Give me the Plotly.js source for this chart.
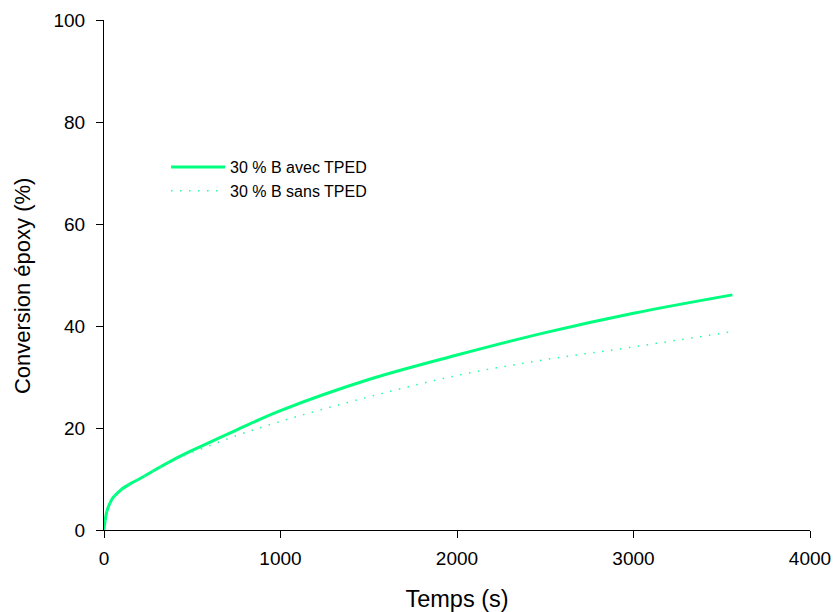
<!DOCTYPE html>
<html><head><meta charset="utf-8">
<script src="https://cdn.plot.ly/plotly-3.0.1.min.js"></script>
<style>body{margin:0;background:#fff}#c{width:834px;height:612px}</style>
</head><body><div id="c"></div>
<script>
const timeAvec = [0, 5, 15, 30, 50, 75, 100, 150, 200, 300, 400, 500, 750, 1000, 1500, 2000, 2500, 3000, 3560];
const convAvec = [0, 1.5, 3.5, 5.0, 6.3, 7.2, 8.0, 9.1, 10.0, 12.0, 13.9, 15.6, 19.6, 23.4, 29.5, 34.3, 38.7, 42.5, 46.1];
const timeSans = [0, 5, 15, 30, 50, 75, 100, 150, 200, 300, 400, 500, 750, 1000, 1500, 2000, 2500, 3000, 3560];
const convSans = [0, 1.5, 3.5, 5.0, 6.3, 7.2, 8.0, 9.1, 10.0, 12.0, 13.8, 15.2, 18.5, 21.3, 26.1, 30.3, 33.4, 35.9, 38.9];
const seriesNames = ["30 % B avec TPED", "30 % B sans TPED"];
const xTicks = [0, 1000, 2000, 3000, 4000];
const yTicks = [0, 20, 40, 60, 80, 100];
const xTitle = 'Temps (s)';
const yTitle = 'Conversion époxy (%)';

const traces = [
  {x: timeAvec, y: convAvec, name: seriesNames[0], mode: 'lines', line: {color: '#00ff7f', width: 3, shape: 'spline'}},
  {x: timeSans, y: convSans, name: seriesNames[1], mode: 'lines', line: {color: '#20ffa0', width: 1.5, dash: '1.5px,7.5px', shape: 'spline'}}
];
const font = {family: 'Liberation Sans, Arial, sans-serif', color: '#000'};
const layout = {
  width: 834, height: 612,
  margin: {l: 104, r: 24, t: 20, b: 82},
  paper_bgcolor: '#fff', plot_bgcolor: '#fff',
  font: Object.assign({size: 16}, font),
  showlegend: true,
  legend: {x: 0.0879, y: 0.745, xanchor: 'left', yanchor: 'top', bgcolor: 'rgba(0,0,0,0)', itemwidth: 54,
    font: Object.assign({size: 16}, font), tracegroupgap: 0},
  xaxis: {range: [0, 4000], tickvals: xTicks, ticktext: xTicks.map(String), showgrid: false, zeroline: false,
    showline: true, linecolor: '#000', linewidth: 1, ticks: 'outside', ticklen: 7, tickcolor: '#000', automargin: false,
    ticklabelstandoff: 4,
    tickfont: Object.assign({size: 19}, font), title: {text: xTitle, font: Object.assign({size: 23.5}, font), standoff: 24}},
  yaxis: {range: [0, 100], tickvals: yTicks, ticktext: yTicks.map(String), showgrid: false, zeroline: false,
    showline: true, linecolor: '#000', linewidth: 1, ticks: 'outside', ticklen: 7, tickcolor: '#000', automargin: false,
    ticklabelstandoff: 7,
    tickfont: Object.assign({size: 19}, font)},
  annotations: [{text: yTitle, xref: 'paper', yref: 'paper', x: -0.1161, y: 0.4784, xanchor: 'center', yanchor: 'middle',
    textangle: -90, showarrow: false, font: Object.assign({size: 22}, font)}]
};
Plotly.newPlot('c', traces, layout, {displayModeBar: false, staticPlot: true});
</script></body></html>
